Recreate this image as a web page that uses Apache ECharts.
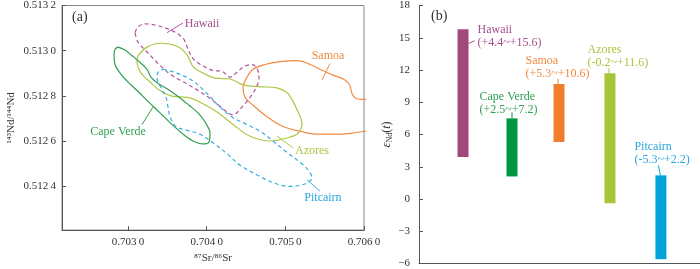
<!DOCTYPE html>
<html><head><meta charset="utf-8">
<script src="https://cdn.jsdelivr.net/npm/echarts@6/dist/echarts.min.js"></script>
<style>html,body{margin:0;padding:0;background:#fff}#c{width:700px;height:269px}</style>
</head><body><div id="c"></div>
<script>
// ---------- Panel (a): 87Sr/86Sr vs 143Nd/144Nd fields ----------
const capeVerde = [[0.702873,0.513016],[0.702962,0.513003],[0.703051,0.512978],[0.703153,0.512948],[0.703241,0.512918],[0.703292,0.512883],[0.703369,0.512858],[0.703496,0.512832],[0.703636,0.512798],[0.703775,0.512759],[0.703902,0.512721],[0.703991,0.512678],[0.704042,0.512635],[0.704030,0.512597],[0.703953,0.512588],[0.703826,0.512601],[0.703699,0.512631],[0.703547,0.512678],[0.703407,0.512725],[0.703254,0.512776],[0.703114,0.512824],[0.702987,0.512866],[0.702898,0.512901],[0.702835,0.512939],[0.702822,0.512982],[0.702835,0.513007],[0.702873,0.513016]];
const hawaii = [[0.703089,0.513080],[0.703127,0.513106],[0.703216,0.513119],[0.703381,0.513110],[0.703559,0.513089],[0.703699,0.513055],[0.703763,0.513007],[0.703826,0.512965],[0.703941,0.512935],[0.704080,0.512913],[0.704195,0.512909],[0.704296,0.512883],[0.704385,0.512905],[0.704474,0.512930],[0.704576,0.512939],[0.704640,0.512922],[0.704665,0.512879],[0.704627,0.512836],[0.704551,0.512794],[0.704449,0.512751],[0.704335,0.512717],[0.704271,0.512725],[0.704106,0.512772],[0.703915,0.512819],[0.703725,0.512858],[0.703534,0.512896],[0.703369,0.512948],[0.703229,0.512999],[0.703127,0.513037],[0.703089,0.513080]];
const azores = [[0.703127,0.512978],[0.703241,0.513016],[0.703407,0.513033],[0.703623,0.513020],[0.703750,0.512982],[0.703826,0.512930],[0.703953,0.512901],[0.704106,0.512879],[0.704296,0.512875],[0.704462,0.512849],[0.704678,0.512841],[0.704894,0.512836],[0.705021,0.512815],[0.705084,0.512785],[0.705161,0.512729],[0.705212,0.512678],[0.705161,0.512635],[0.705021,0.512614],[0.704805,0.512601],[0.704551,0.512622],[0.704335,0.512674],[0.704131,0.512729],[0.703915,0.512772],[0.703763,0.512794],[0.703572,0.512798],[0.703407,0.512824],[0.703280,0.512862],[0.703165,0.512901],[0.703114,0.512952],[0.703127,0.512978]];
const samoa = [[0.706203,0.512785],[0.705987,0.512785],[0.705898,0.512789],[0.705847,0.512811],[0.705822,0.512845],[0.705758,0.512871],[0.705606,0.512892],[0.705440,0.512918],[0.705288,0.512943],[0.705148,0.512956],[0.704932,0.512952],[0.704741,0.512939],[0.704589,0.512918],[0.704512,0.512883],[0.704462,0.512836],[0.704487,0.512794],[0.704589,0.512759],[0.704767,0.512708],[0.704970,0.512665],[0.705186,0.512644],[0.705402,0.512631],[0.705631,0.512631],[0.705822,0.512635],[0.706012,0.512644],[0.706203,0.512648]];
const pitcairn = [[0.703445,0.512918],[0.703623,0.512901],[0.703826,0.512866],[0.704004,0.512811],[0.704169,0.512751],[0.704335,0.512704],[0.704512,0.512674],[0.704678,0.512644],[0.704843,0.512601],[0.705021,0.512550],[0.705186,0.512507],[0.705288,0.512473],[0.705339,0.512439],[0.705262,0.512413],[0.705059,0.512400],[0.704843,0.512417],[0.704640,0.512451],[0.704424,0.512494],[0.704258,0.512545],[0.704080,0.512593],[0.703915,0.512631],[0.703750,0.512648],[0.703610,0.512665],[0.703534,0.512708],[0.703508,0.512751],[0.703483,0.512794],[0.703419,0.512836],[0.703369,0.512879],[0.703381,0.512905],[0.703445,0.512918]];

// field label anchors (data coords): [labelX, labelY, leaderX1, leaderY1, leaderX2, leaderY2]
const fieldLabelNames = ['Hawaii','Samoa','Cape Verde','Azores','Pitcairn'];
const fieldLabelAnchors = [
  [0.703941,0.513119, 0.703496,0.513080, 0.703699,0.513123],
  [0.705542,0.512978, 0.705466,0.512871, 0.705567,0.512943],
  [0.702873,0.512640, 0.703178,0.512674, 0.703318,0.512751],
  [0.705339,0.512558, 0.704894,0.512622, 0.705097,0.512571],
  [0.705478,0.512349, 0.705275,0.512430, 0.705440,0.512379]
];
const srTicks = [0.703, 0.704, 0.705, 0.706];
const ndTicks = [0.5124, 0.5126, 0.5128, 0.5130, 0.5132];

// ---------- Panel (b): eNd(t) ranges ----------
const barNames = ['Hawaii','Cape Verde','Samoa','Azores','Pitcairn'];
const barPos = [1, 1.99, 2.94, 3.97, 5.0];
const barLow = [3.9, 2.1, 5.3, -0.4, -5.6];
const barHigh = [15.8, 7.5, 10.7, 11.7, 2.2];
const barRangeText = ['(+4.4~+15.6)','(+2.5~+7.2)','(+5.3~+10.6)','(-0.2~+11.6)','(-5.3~+2.2)'];

// ---------- styles ----------
const FONT = 'Liberation Serif';
const lineColors = {Hawaii:'#b0549a','Cape Verde':'#2f9f50',Samoa:'#f28b40',Azores:'#abc944',Pitcairn:'#38ade2'};
const textColors = {Hawaii:'#a94f8f','Cape Verde':'#2fa055',Samoa:'#f08a40',Azores:'#a9c640',Pitcairn:'#2aa6dd'};
const barColors = {Hawaii:'#a3487b','Cape Verde':'#00953f',Samoa:'#ef7f2c',Azores:'#a6c637',Pitcairn:'#00a2db'};
// label layout relative to bar top centre (px)
const barLabelLayout = [
  {dx:14.5, dy:-6,  l:[5.5,14.5,11.5,11.5]},
  {dx:-32.5,dy:-28.5,l:[0,-6,0,0]},
  {dx:-33.5,dy:-29.5,l:[-1,-5,-1,0]},
  {dx:-22.5,dy:-29.5,l:[-1,-5,-1,0]},
  {dx:-26.5,dy:-35, l:[-2.5,-10,-0.5,0]}
];

const fmtIso = v => { const s = v.toFixed(4); return s.slice(0,5) + '\u2009' + s.slice(5); };
const axisCol = '#555';

function fieldSeries(name, data, dashed) {
  return {
    type:'line', name, xAxisIndex:0, yAxisIndex:0, data, showSymbol:false, symbol:'none',
    smooth:0.35, clip:true, silent:true,
    lineStyle:{color:lineColors[name], width:1.2, type: dashed ? [4,3] : 'solid'},
    z:3
  };
}

const option = {
  backgroundColor:'#fff',
  animation:false,
  grid:[
    {left:62, top:5, width:302, height:232, show:true, borderColor:'#888', borderWidth:1, backgroundColor:'transparent'},
    {left:419, top:5, width:281, height:260, show:false}
  ],
  xAxis:[
    {type:'value', gridIndex:0, min:0.70216, max:0.706,
     axisLine:{onZero:false, lineStyle:{color:axisCol, width:1}},
     axisTick:{inside:true, length:4, customValues:srTicks, lineStyle:{color:axisCol}},
     axisLabel:{customValues:srTicks, formatter:fmtIso, color:'#333', fontFamily:FONT, fontSize:11, margin:7},
     splitLine:{show:false},
     name:'\u2078\u2077Sr/\u2078\u2076Sr', nameLocation:'middle', nameGap:21,
     nameTextStyle:{color:'#333', fontFamily:FONT, fontSize:11}},
    {type:'value', gridIndex:1, min:0.11, max:5.79,
     axisLine:{onZero:false, lineStyle:{color:axisCol, width:1}},
     axisTick:{show:false}, axisLabel:{show:false}, splitLine:{show:false}}
  ],
  yAxis:[
    {type:'value', gridIndex:0, min:0.512207, max:0.5132,
     axisLine:{show:true, onZero:false, lineStyle:{color:axisCol, width:1}},
     axisTick:{show:true, inside:true, length:4, customValues:ndTicks, lineStyle:{color:axisCol}},
     axisLabel:{customValues:ndTicks, formatter:fmtIso, color:'#333', fontFamily:FONT, fontSize:11, margin:6},
     splitLine:{show:false},
     name:'\u00b9\u2074\u00b3Nd/\u00b9\u2074\u2074Nd', nameLocation:'middle', nameGap:45, nameRotate:90,
     nameTextStyle:{color:'#333', fontFamily:FONT, fontSize:11}},
    {type:'value', gridIndex:1, min:-6, max:18, interval:3,
     axisLine:{show:true, onZero:false, lineStyle:{color:axisCol, width:1}},
     axisTick:{show:true, inside:true, length:4, lineStyle:{color:axisCol}},
     axisLabel:{formatter:v => String(v).replace('-', '\u2212'), color:'#333', fontFamily:FONT, fontSize:11, margin:9},
     splitLine:{show:false},
     name:'{e|\u03b5}{s|Nd}{p|(}{t|t}{p|)}', nameLocation:'middle', nameGap:14, nameRotate:90,
     nameTextStyle:{color:'#333', fontFamily:FONT, fontSize:12,
       rich:{e:{fontFamily:FONT, fontSize:13, fontStyle:'italic', color:'#333'},
             s:{fontFamily:FONT, fontSize:8, color:'#333', verticalAlign:'bottom', padding:[7,0,0,0]},
             p:{fontFamily:FONT, fontSize:12, color:'#333'},
             t:{fontFamily:FONT, fontSize:12, fontStyle:'italic', color:'#333'}}}}
  ],
  graphic:[
    {type:'text', left:72, top:10, style:{text:'(a)', fontFamily:FONT, fontSize:14, fill:'#333'}},
    {type:'text', left:431, top:9, style:{text:'(b)', fontFamily:FONT, fontSize:14, fill:'#333'}}
  ],
  series:[
    fieldSeries('Samoa', samoa, false),
    fieldSeries('Azores', azores, false),
    fieldSeries('Cape Verde', capeVerde, false),
    fieldSeries('Hawaii', hawaii, true),
    fieldSeries('Pitcairn', pitcairn, true),
    {
      type:'custom', xAxisIndex:0, yAxisIndex:0, silent:true, z:5,
      data: fieldLabelAnchors,
      renderItem:(params, api) => {
        const i = params.dataIndex, nm = fieldLabelNames[i];
        const p = api.coord([api.value(0), api.value(1)]);
        const a = api.coord([api.value(2), api.value(3)]);
        const b = api.coord([api.value(4), api.value(5)]);
        return {type:'group', children:[
          {type:'line', shape:{x1:a[0], y1:a[1], x2:b[0], y2:b[1]}, style:{stroke:lineColors[nm], lineWidth:1}},
          {type:'text', x:p[0], y:p[1], style:{text:nm, fill:textColors[nm], fontFamily:FONT, fontSize:12, align:'center', verticalAlign:'middle'}}
        ]};
      }
    },
    {
      type:'custom', xAxisIndex:1, yAxisIndex:1, silent:true, z:5,
      data: barNames.map((n, i) => [barPos[i], barLow[i], barHigh[i]]),
      renderItem:(params, api) => {
        const i = params.dataIndex, nm = barNames[i], L = barLabelLayout[i];
        const top = api.coord([api.value(0), api.value(2)]);
        const bot = api.coord([api.value(0), api.value(1)]);
        const w = 11;
        return {type:'group', children:[
          {type:'rect', shape:{x:top[0]-w/2, y:top[1], width:w, height:bot[1]-top[1]}, style:{fill:barColors[nm]}},
          {type:'line', shape:{x1:top[0]+L.l[0], y1:top[1]+L.l[1], x2:top[0]+L.l[2], y2:top[1]+L.l[3]}, style:{stroke:barColors[nm], lineWidth:1}},
          {type:'text', x:top[0]+L.dx, y:top[1]+L.dy, style:{text:nm + '\n' + barRangeText[i], fill:textColors[nm], fontFamily:FONT, fontSize:12, lineHeight:13, align:'left', verticalAlign:'top'}}
        ]};
      }
    }
  ]
};
const chart = echarts.init(document.getElementById('c'), null, {renderer:'canvas'});
chart.setOption(option);
</script></body></html>
